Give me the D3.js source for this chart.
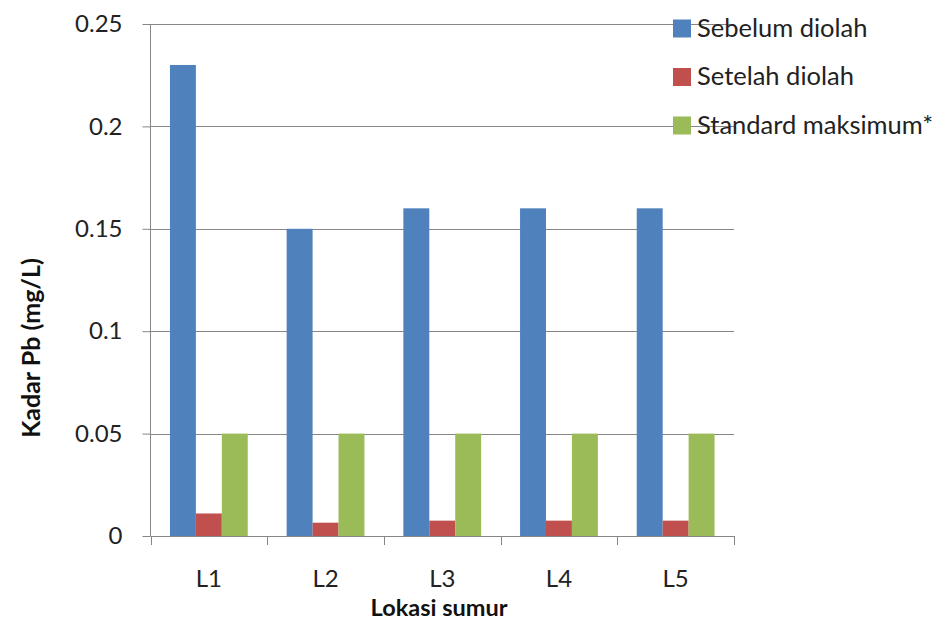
<!DOCTYPE html>
<html>
<head>
<meta charset="utf-8">
<script src="https://cdn.jsdelivr.net/npm/d3@7"></script>
<style>
  html, body { margin: 0; padding: 0; background: #fff; }
  svg { display: block; font-family: Lato, "Open Sans", sans-serif; }
</style>
</head>
<body>
<svg id="chart" width="951" height="621"></svg>
<script>
// Lead (Pb) concentration per well, before and after treatment
const locations = ["L1", "L2", "L3", "L4", "L5"];
const sebelum = [0.23, 0.15, 0.16, 0.16, 0.16];
const setelah = [0.011, 0.0065, 0.0075, 0.0075, 0.0075];
const standard = [0.05, 0.05, 0.05, 0.05, 0.05];
const seriesNames = ["Sebelum diolah", "Setelah diolah", "Standard maksimum*"];
const seriesColors = ["#4F81BD", "#C0504D", "#9BBB59"];
const yTicks = [0, 0.05, 0.1, 0.15, 0.2, 0.25];
const yTickLabels = ["0", "0.05", "0.1", "0.15", "0.2", "0.25"];

const seriesValues = [sebelum, setelah, standard];

const svg = d3.select("#chart");
const plotLeft = 150.5, plotRight = 734, plotTop = 24, plotBottom = 536;

const x = d3.scaleBand().domain(locations).range([plotLeft, plotRight]).paddingInner(0).paddingOuter(0);
const barW = x.bandwidth() / 4.5;
const xs = d3.scaleBand().domain(seriesNames).range([0, barW * 3]);
const y = d3.scaleLinear().domain([0, 0.25]).range([plotBottom, plotTop]);

const gridColor = "#868686";

// horizontal gridlines
svg.append("g")
  .selectAll("line")
  .data(yTicks.filter(d => d > 0))
  .join("line")
  .attr("x1", plotLeft).attr("x2", plotRight)
  .attr("y1", d => Math.round(y(d)) + 0.5).attr("y2", d => Math.round(y(d)) + 0.5)
  .attr("stroke", gridColor).attr("stroke-width", 1);

// bars
const groups = svg.append("g")
  .selectAll("g")
  .data(locations)
  .join("g")
  .attr("transform", d => `translate(${x(d) + barW * 0.75},0)`);

groups.selectAll("rect")
  .data((d, i) => seriesNames.map((s, j) => ({ s, j, v: seriesValues[j][i] })))
  .join("rect")
  .attr("x", d => xs(d.s))
  .attr("width", xs.bandwidth())
  .attr("y", d => y(d.v))
  .attr("height", d => y(0) - y(d.v))
  .attr("fill", d => seriesColors[d.j]);

// y axis
const yAxis = d3.axisLeft(y)
  .tickValues(yTicks)
  .tickFormat((d, i) => yTickLabels[i])
  .tickSize(8)
  .tickPadding(20);
const gy = svg.append("g").attr("transform", `translate(${plotLeft},0)`).call(yAxis);
gy.select(".domain").attr("stroke", gridColor).attr("d", `M0,${plotTop}V${plotBottom}`);
gy.selectAll(".tick line").attr("stroke", gridColor);
gy.selectAll(".tick text").attr("font-size", 24).attr("fill", "#222").attr("font-family", "Lato");

// x axis: ticks at category boundaries
svg.append("line")
  .attr("x1", plotLeft).attr("x2", plotRight)
  .attr("y1", plotBottom + 0.5).attr("y2", plotBottom + 0.5)
  .attr("stroke", gridColor);
const boundaries = locations.map(d => x(d)).concat([x(locations[locations.length - 1]) + x.bandwidth()]);
svg.append("g").selectAll("line")
  .data(boundaries)
  .join("line")
  .attr("x1", d => Math.round(d) + 0.5).attr("x2", d => Math.round(d) + 0.5)
  .attr("y1", plotBottom).attr("y2", plotBottom + 9)
  .attr("stroke", gridColor);
svg.append("g").selectAll("text")
  .data(locations)
  .join("text")
  .attr("x", d => x(d) + x.bandwidth() / 2)
  .attr("y", 587)
  .attr("text-anchor", "middle")
  .attr("font-size", 24)
  .attr("fill", "#222")
  .text(d => d);

// axis titles
svg.append("text")
  .attr("x", 439).attr("y", 616)
  .attr("text-anchor", "middle")
  .attr("font-size", 23.5).attr("font-weight", "bold")
  .attr("fill", "#111")
  .text("Lokasi sumur");

svg.append("text")
  .attr("transform", "translate(40,348) rotate(-90)")
  .attr("text-anchor", "middle")
  .attr("font-size", 25).attr("font-weight", "bold")
  .attr("fill", "#111")
  .text("Kadar Pb (mg/L)");

// legend
const legend = svg.append("g").selectAll("g")
  .data(seriesNames)
  .join("g")
  .attr("transform", (d, i) => `translate(673,${[28.5, 77, 125.5][i]})`);
legend.append("rect")
  .attr("x", 0).attr("y", -9)
  .attr("width", 18).attr("height", 18)
  .attr("fill", (d, i) => seriesColors[i]);
legend.append("text")
  .attr("x", 24).attr("y", 8)
  .attr("font-size", 25.5)
  .attr("fill", "#222")
  .text(d => d);
</script>
</body>
</html>
